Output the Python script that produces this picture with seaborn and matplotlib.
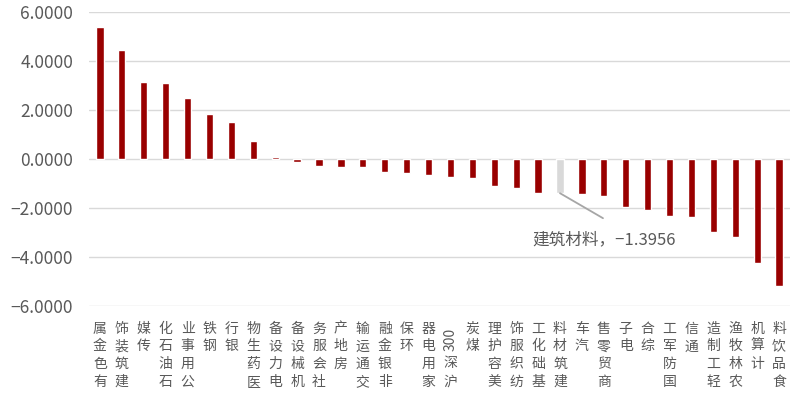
import re
import matplotlib
matplotlib.use("Agg")
import matplotlib.pyplot as plt
from matplotlib.ticker import FuncFormatter
import seaborn as sns

# 行业涨跌幅（%）
categories = ["有色金属", "建筑装饰", "传媒", "石油石化", "公用事业", "钢铁", "银行", "医药生物",
              "电力设备", "机械设备", "社会服务", "房地产", "交通运输", "非银金融", "环保", "家用电器",
              "沪深300", "煤炭", "美容护理", "纺织服饰", "基础化工", "建筑材料", "汽车", "商贸零售",
              "电子", "综合", "国防军工", "通信", "轻工制造", "农林牧渔", "计算机", "食品饮料"]
values = [5.37, 4.45, 3.14, 3.10, 2.47, 1.85, 1.51, 0.75,
          0.07, -0.11, -0.27, -0.31, -0.34, -0.55, -0.59, -0.65,
          -0.75, -0.79, -1.10, -1.18, -1.37, -1.3956, -1.42, -1.50,
          -1.97, -2.08, -2.33, -2.38, -2.98, -3.17, -4.24, -5.20]
highlight = "建筑材料"
y_ticks = [-6, -4, -2, 0, 2, 4, 6]

RED = "#990000"
GREY_BAR = "#d9d9d9"
TEXT = "#595959"
FONT = ["Noto Sans CJK SC", "DejaVu Sans"]

sns.set_theme(style="white")
plt.rcParams["font.family"] = FONT
plt.rcParams["axes.unicode_minus"] = True

fig = plt.figure(figsize=(7.9, 3.94), dpi=100)
ax = fig.add_axes([89 / 790, 1 - 306 / 394, 1 - 89 / 790, (306 - 12) / 394])

colors = [GREY_BAR if c == highlight else RED for c in categories]
sns.barplot(x=categories, y=values, hue=categories, palette=colors, legend=False,
            width=0.33, saturation=1, ax=ax)

ax.set_xlim(-0.5, len(categories) - 0.5)
ax.set_ylim(min(y_ticks), max(y_ticks))
ax.set_yticks(y_ticks)
ax.yaxis.set_major_formatter(FuncFormatter(lambda v, _: f"{v:.4f}".replace("-", "\u2212")))
ax.yaxis.grid(True, color="#d9d9d9", lw=1)
ax.set_axisbelow(True)
for s in ax.spines.values():
    s.set_visible(False)
ax.tick_params(axis="y", length=0, pad=11.5, labelsize=12.5, labelcolor=TEXT)
ax.tick_params(axis="x", length=0, labelbottom=False)
ax.set_xlabel("")
ax.set_ylabel("")

# 竖排类目标签：汉字直立逐字堆叠，数字整体旋转
CHAR_PITCH = 17.8
for i, lab in enumerate(categories):
    tokens = re.findall(r"[0-9A-Za-z]+|.", lab)[::-1]
    cursor = 16.0
    for tok in tokens:
        if tok.isascii():
            length = 8.3 * len(tok) + 2
            center = cursor + 4 + length / 2
            ax.annotate(tok, xy=(i, 0), xycoords=("data", "axes fraction"),
                        xytext=(0, -center), textcoords="offset pixels",
                        ha="center", va="center", rotation=90,
                        fontsize=10, color=TEXT, family=FONT)
            cursor += length + 8
        else:
            center = cursor + 6.5
            ax.annotate(tok, xy=(i, 0), xycoords=("data", "axes fraction"),
                        xytext=(0, -center), textcoords="offset pixels",
                        ha="center", va="center",
                        fontsize=10, color=TEXT, family=FONT)
            cursor += CHAR_PITCH

# 高亮行业的数据标签与引导线
hi = categories.index(highlight)
hv = values[hi]
ax.annotate("", xy=(hi, hv), xycoords="data",
            xytext=(43, -25), textcoords="offset pixels",
            arrowprops=dict(arrowstyle="-", color="#a6a6a6", lw=1.3, shrinkA=0, shrinkB=0))
ax.annotate(f"{highlight}，{hv:.4f}".replace("-", "\u2212"), xy=(hi, hv), xycoords="data",
            xytext=(44, -47), textcoords="offset pixels",
            ha="center", va="center", fontsize=12, color=TEXT, family=FONT)

fig.savefig("out.png", dpi=100)
